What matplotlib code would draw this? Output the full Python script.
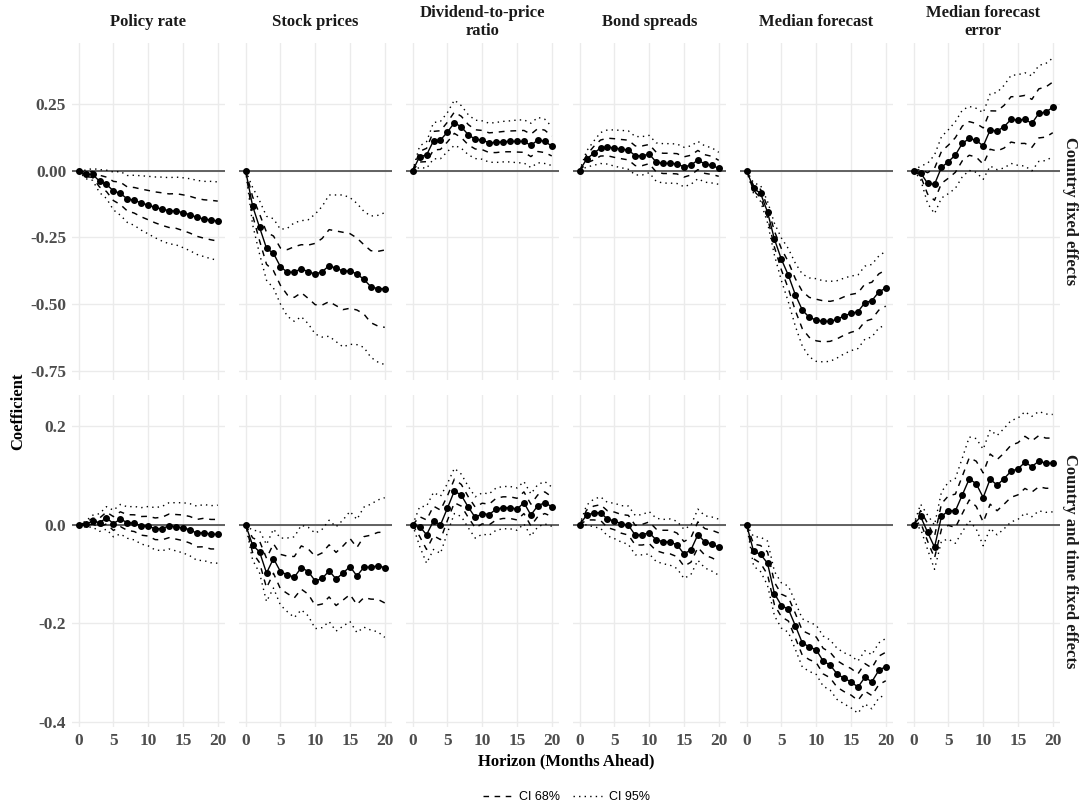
import matplotlib
matplotlib.use("Agg")
import matplotlib.pyplot as plt
import numpy as np
from matplotlib.lines import Line2D

horizon = list(range(21))
variables = ["Policy rate", "Stock prices", "Dividend-to-price\nratio", "Bond spreads",
             "Median forecast", "Median forecast\nerror"]
specs = ["Country fixed effects", "Country and time fixed effects"]

# ---- Row 1: Country fixed effects ----
cfe_policy_est = [0, -0.014, -0.014, -0.039, -0.051, -0.076, -0.085, -0.106, -0.111, -0.121, -0.129,
                  -0.1375, -0.144, -0.15, -0.151, -0.1575, -0.165, -0.175, -0.181, -0.185, -0.189]
cfe_policy_w68 = [0, 0.008, 0.011, 0.022, 0.027, 0.036, 0.042, 0.045, 0.048, 0.052, 0.055,
                  0.058, 0.061, 0.063, 0.065, 0.067, 0.069, 0.071, 0.072, 0.074, 0.075]
cfe_policy_w95 = [0, 0.016, 0.022, 0.043, 0.053, 0.071, 0.082, 0.088, 0.094, 0.102, 0.108,
                  0.114, 0.12, 0.124, 0.127, 0.131, 0.135, 0.139, 0.141, 0.145, 0.147]

cfe_stock_est = [0, -0.1325, -0.2125, -0.291, -0.31, -0.36, -0.381, -0.38, -0.3675, -0.379, -0.3875,
                 -0.379, -0.356, -0.366, -0.376, -0.376, -0.3875, -0.4075, -0.435, -0.4425, -0.4425]
cfe_stock_w68 = [0, 0.035, 0.05, 0.06, 0.065, 0.07, 0.085, 0.095, 0.09, 0.1, 0.115,
                 0.125, 0.135, 0.14, 0.145, 0.14, 0.135, 0.13, 0.135, 0.14, 0.145]
cfe_stock_w95 = [0, 0.07, 0.1, 0.12, 0.13, 0.14, 0.165, 0.185, 0.18, 0.195, 0.225,
                 0.245, 0.265, 0.275, 0.285, 0.275, 0.265, 0.255, 0.265, 0.275, 0.285]

cfe_dp_est = [0, 0.0525, 0.059, 0.1125, 0.115, 0.145, 0.18, 0.164, 0.135, 0.1175, 0.115,
              0.105, 0.106, 0.109, 0.11, 0.11, 0.11, 0.095, 0.115, 0.11, 0.0925]
cfe_dp_w68 = [0, 0.02, 0.025, 0.035, 0.035, 0.037, 0.04, 0.04, 0.038, 0.036, 0.036,
              0.037, 0.038, 0.038, 0.039, 0.04, 0.041, 0.042, 0.043, 0.042, 0.037]
cfe_dp_w95 = [0, 0.04, 0.05, 0.068, 0.07, 0.073, 0.085, 0.08, 0.075, 0.072, 0.072,
              0.073, 0.075, 0.076, 0.077, 0.08, 0.081, 0.083, 0.085, 0.083, 0.073]

cfe_bond_est = [0, 0.044, 0.065, 0.085, 0.089, 0.085, 0.081, 0.0775, 0.056, 0.056, 0.0625,
                0.0325, 0.0275, 0.0275, 0.026, 0.014, 0.021, 0.04, 0.025, 0.02, 0.009]
cfe_bond_w68 = [0, 0.015, 0.025, 0.03, 0.033, 0.035, 0.036, 0.037, 0.037, 0.037, 0.036,
                0.037, 0.038, 0.038, 0.038, 0.038, 0.037, 0.036, 0.035, 0.034, 0.03]
cfe_bond_w95 = [0, 0.03, 0.045, 0.058, 0.064, 0.068, 0.07, 0.072, 0.072, 0.072, 0.07,
                0.072, 0.074, 0.074, 0.074, 0.074, 0.072, 0.07, 0.068, 0.066, 0.06]

cfe_mf_est = [0, -0.066, -0.085, -0.155, -0.2575, -0.3325, -0.3925, -0.465, -0.5225, -0.55, -0.56,
              -0.565, -0.565, -0.5575, -0.545, -0.535, -0.529, -0.495, -0.4875, -0.455, -0.44]
cfe_mf_w68 = [0, 0.01, 0.015, 0.02, 0.03, 0.04, 0.05, 0.06, 0.07, 0.075, 0.078,
              0.077, 0.075, 0.073, 0.072, 0.071, 0.07, 0.07, 0.069, 0.068, 0.068]
cfe_mf_w95 = [0, 0.02, 0.03, 0.04, 0.06, 0.08, 0.1, 0.118, 0.135, 0.148, 0.155,
              0.152, 0.15, 0.145, 0.142, 0.14, 0.138, 0.137, 0.136, 0.135, 0.138]

cfe_mfe_est = [0, -0.0075, -0.0475, -0.051, 0.0125, 0.034, 0.059, 0.1025, 0.121, 0.114, 0.0925,
               0.1525, 0.149, 0.165, 0.1925, 0.19, 0.1925, 0.1775, 0.215, 0.22, 0.2375]
cfe_mfe_w68 = [0, 0.012, 0.04, 0.06, 0.06, 0.062, 0.065, 0.065, 0.063, 0.063, 0.068,
               0.072, 0.075, 0.08, 0.085, 0.088, 0.09, 0.09, 0.092, 0.094, 0.095]
cfe_mfe_w95 = [0, 0.025, 0.075, 0.11, 0.115, 0.12, 0.125, 0.125, 0.12, 0.12, 0.125,
               0.135, 0.145, 0.155, 0.165, 0.17, 0.175, 0.178, 0.18, 0.182, 0.185]

# ---- Row 2: Country and time fixed effects ----
ctfe_policy_est = [0, 0.0014, 0.0075, 0.0047, 0.014, 0.0027, 0.0115, 0.0047, 0.0034, -0.002, -0.0027,
                   -0.008, -0.0075, -0.002, -0.004, -0.006, -0.01, -0.017, -0.0156, -0.019, -0.019]
ctfe_policy_w68 = [0, 0.003, 0.006, 0.009, 0.012, 0.014, 0.015, 0.016, 0.017, 0.019, 0.02,
                   0.022, 0.023, 0.024, 0.025, 0.026, 0.027, 0.028, 0.029, 0.03, 0.03]
ctfe_policy_w95 = [0, 0.006, 0.012, 0.018, 0.023, 0.027, 0.03, 0.032, 0.034, 0.037, 0.04,
                   0.043, 0.045, 0.047, 0.049, 0.051, 0.053, 0.055, 0.057, 0.058, 0.059]

ctfe_stock_est = [0, -0.0414, -0.055, -0.098, -0.0685, -0.095, -0.1017, -0.1064, -0.0868, -0.095, -0.114,
                  -0.109, -0.0936, -0.11, -0.098, -0.0847, -0.104, -0.086, -0.086, -0.0834, -0.0868]
ctfe_stock_w68 = [0, 0.015, 0.022, 0.03, 0.03, 0.035, 0.038, 0.042, 0.044, 0.046, 0.05,
                  0.052, 0.053, 0.054, 0.055, 0.057, 0.058, 0.062, 0.065, 0.068, 0.072]
ctfe_stock_w95 = [0, 0.03, 0.043, 0.058, 0.06, 0.068, 0.075, 0.082, 0.086, 0.09, 0.097,
                  0.1, 0.103, 0.106, 0.108, 0.112, 0.115, 0.122, 0.128, 0.134, 0.142]

ctfe_dp_est = [0, -0.0034, -0.02, 0.008, 0.0, 0.034, 0.069, 0.06, 0.036, 0.015, 0.023,
               0.021, 0.032, 0.035, 0.035, 0.032, 0.045, 0.02, 0.039, 0.045, 0.037]
ctfe_dp_w68 = [0, 0.02, 0.03, 0.03, 0.03, 0.025, 0.024, 0.022, 0.021, 0.021, 0.021,
               0.021, 0.022, 0.022, 0.022, 0.022, 0.022, 0.022, 0.022, 0.022, 0.02]
ctfe_dp_w95 = [0, 0.04, 0.058, 0.058, 0.058, 0.05, 0.046, 0.043, 0.042, 0.042, 0.042,
               0.042, 0.043, 0.043, 0.043, 0.043, 0.043, 0.043, 0.043, 0.043, 0.04]

ctfe_bond_est = [0, 0.02, 0.024, 0.025, 0.0115, 0.008, 0.002, -0.0007, -0.021, -0.02, -0.016,
                 -0.0305, -0.034, -0.035, -0.0407, -0.059, -0.051, -0.02, -0.0346, -0.039, -0.0454]
ctfe_bond_w68 = [0, 0.01, 0.014, 0.016, 0.017, 0.018, 0.019, 0.02, 0.02, 0.021, 0.022,
                 0.022, 0.023, 0.024, 0.024, 0.025, 0.025, 0.026, 0.027, 0.028, 0.029]
ctfe_bond_w95 = [0, 0.02, 0.028, 0.032, 0.034, 0.036, 0.037, 0.039, 0.04, 0.041, 0.043,
                 0.044, 0.045, 0.047, 0.048, 0.05, 0.05, 0.052, 0.053, 0.055, 0.057]

ctfe_mf_est = [0, -0.054, -0.06, -0.078, -0.14, -0.164, -0.1715, -0.205, -0.24, -0.248, -0.254,
               -0.277, -0.285, -0.303, -0.312, -0.319, -0.33, -0.31, -0.319, -0.296, -0.288]
ctfe_mf_w68 = [0, 0.015, 0.018, 0.023, 0.023, 0.023, 0.024, 0.025, 0.025, 0.026, 0.026,
               0.026, 0.026, 0.027, 0.027, 0.027, 0.027, 0.028, 0.028, 0.029, 0.029]
ctfe_mf_w95 = [0, 0.03, 0.035, 0.045, 0.045, 0.046, 0.047, 0.048, 0.049, 0.05, 0.05,
               0.051, 0.051, 0.052, 0.052, 0.053, 0.053, 0.054, 0.055, 0.056, 0.057]

ctfe_mfe_est = [0, 0.017, -0.015, -0.0454, 0.017, 0.029, 0.0285, 0.061, 0.0936, 0.0834, 0.0556,
                0.093, 0.0807, 0.094, 0.109, 0.114, 0.127, 0.1186, 0.1295, 0.1254, 0.1254]
ctfe_mfe_w68 = [0, 0.012, 0.018, 0.022, 0.026, 0.03, 0.034, 0.038, 0.043, 0.046, 0.05,
                0.051, 0.052, 0.052, 0.053, 0.053, 0.053, 0.052, 0.052, 0.051, 0.051]
ctfe_mfe_w95 = [0, 0.025, 0.035, 0.045, 0.05, 0.058, 0.066, 0.075, 0.085, 0.092, 0.098,
                0.1, 0.101, 0.102, 0.103, 0.103, 0.103, 0.102, 0.101, 0.1, 0.099]

rows = [
    [(cfe_policy_est, cfe_policy_w68, cfe_policy_w95), (cfe_stock_est, cfe_stock_w68, cfe_stock_w95),
     (cfe_dp_est, cfe_dp_w68, cfe_dp_w95), (cfe_bond_est, cfe_bond_w68, cfe_bond_w95),
     (cfe_mf_est, cfe_mf_w68, cfe_mf_w95), (cfe_mfe_est, cfe_mfe_w68, cfe_mfe_w95)],
    [(ctfe_policy_est, ctfe_policy_w68, ctfe_policy_w95), (ctfe_stock_est, ctfe_stock_w68, ctfe_stock_w95),
     (ctfe_dp_est, ctfe_dp_w68, ctfe_dp_w95), (ctfe_bond_est, ctfe_bond_w68, ctfe_bond_w95),
     (ctfe_mf_est, ctfe_mf_w68, ctfe_mf_w95), (ctfe_mfe_est, ctfe_mfe_w68, ctfe_mfe_w95)],
]

row_yticks = [[0.25, 0.0, -0.25, -0.50, -0.75], [0.2, 0.0, -0.2, -0.4]]
row_yticklabels = [["0.25", "0.00", "-0.25", "-0.50", "-0.75"], ["0.2", "0.0", "-0.2", "-0.4"]]
row_ylim = [(-0.785, 0.479), (-0.411, 0.264)]
xticks = [0, 5, 10, 15, 20]

W, H = 1085, 807
fig = plt.figure(figsize=(W / 100, H / 100), dpi=100)
fig.patch.set_facecolor("white")

SERIF = ["Liberation Serif", "DejaVu Serif"]
SANS = ["Liberation Sans", "DejaVu Sans"]
TICKC = "#4D4D4D"
GRIDC = "#EBEBEB"
TXTC = "#1A1A1A"

L0, PW, STEP = 71.7, 153.0, 167.0
row_px = [(43, 380), (395, 727)]

for r in range(2):
    top, bot = row_px[r]
    for c in range(6):
        left = L0 + c * STEP
        ax = fig.add_axes([left / W, 1 - bot / H, PW / W, (bot - top) / H])
        est, w68, w95 = (np.array(a) for a in rows[r][c])
        ax.set_xlim(-1, 21)
        ax.set_ylim(*row_ylim[r])
        ax.set_xticks(xticks)
        ax.set_yticks(row_yticks[r])
        ax.grid(True, color=GRIDC, lw=1.0)
        ax.set_axisbelow(True)
        for s in ax.spines.values():
            s.set_visible(False)
        ax.tick_params(length=0, colors=TICKC, pad=4)
        if c == 0:
            ax.set_yticklabels(row_yticklabels[r], fontfamily=SERIF, fontweight="bold",
                               fontsize=12.5, color=TICKC)
        else:
            ax.set_yticklabels([])
        if r == 1:
            ax.set_xticklabels([str(t) for t in xticks], fontfamily=SERIF, fontweight="bold",
                               fontsize=12.5, color=TICKC)
        else:
            ax.set_xticklabels([])
        ax.axhline(0, color="#555555", lw=1.3, zorder=1)
        ax.plot(horizon, est + w95, color="black", lw=1.0, ls=(0, (1, 3)), zorder=2)
        ax.plot(horizon, est - w95, color="black", lw=1.0, ls=(0, (1, 3)), zorder=2)
        ax.plot(horizon, est + w68, color="black", lw=1.05, ls=(0, (4, 4)), zorder=2)
        ax.plot(horizon, est - w68, color="black", lw=1.05, ls=(0, (4, 4)), zorder=2)
        ax.plot(horizon, est, color="black", lw=1.0, marker="o", ms=4, zorder=3)
        if r == 0:
            ax.text(0.5, 1 + 21 / (bot - top), variables[c], transform=ax.transAxes,
                    ha="center", va="center", fontfamily=SERIF, fontweight="bold",
                    fontsize=12, linespacing=1.15, color=TXTC)
        if c == 5:
            ax.text(1 + 10.5 / PW, 0.5, specs[r], transform=ax.transAxes, rotation=-90,
                    ha="center", va="center", fontfamily=SERIF, fontweight="bold", fontsize=12,
                    color=TXTC)

fig.text(18 / W, 1 - 411 / H, "Coefficient", rotation=90, ha="center", va="center",
         fontfamily=SERIF, fontweight="bold", fontsize=12)
fig.text(566.7 / W, 1 - 761 / H, "Horizon (Months Ahead)", ha="center", va="center",
         fontfamily=SERIF, fontweight="bold", fontsize=12)

handles = [Line2D([], [], color="black", lw=1.0, ls=(0, (4, 4))),
           Line2D([], [], color="black", lw=1.0, ls=(0, (1, 3)))]
fig.legend(handles, ["CI 68%", "CI 95%"], loc="center", bbox_to_anchor=(566.7 / W, 1 - 797 / H),
           ncol=2, frameon=False, prop={"family": SANS, "size": 9}, handlelength=2.3,
           columnspacing=1.0, handletextpad=0.6)

fig.savefig("out.png", dpi=100, facecolor="white")
